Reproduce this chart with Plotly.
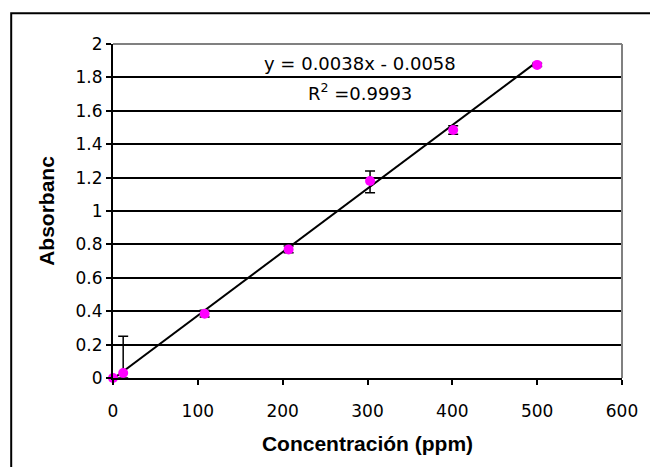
import plotly.graph_objects as go

conc = [0, 12, 108, 207, 303, 401, 500]
absorb = [0.0, 0.03, 0.385, 0.77, 1.18, 1.485, 1.875]
err_plus = [0.0, 0.22, 0.02, 0.02, 0.06, 0.025, 0.01]
err_minus = [0.0, 0.03, 0.02, 0.02, 0.07, 0.025, 0.01]
slope, intercept = 0.0038, -0.0058
fit_x = [0, 500]
fit_y = [slope * v + intercept for v in fit_x]
x_ticks = [0, 100, 200, 300, 400, 500, 600]

TICKFONT = "DejaVu Sans, Verdana, sans-serif"
TITLEFONT = "Liberation Sans, Arial, sans-serif"

fig = go.Figure()
fig.add_trace(go.Scatter(
    x=fit_x, y=fit_y, mode="lines",
    line=dict(color="black", width=2), showlegend=False, cliponaxis=False))
fig.add_trace(go.Scatter(
    x=conc, y=absorb, mode="markers",
    marker=dict(color="#FF00FF", size=10, symbol="circle"),
    error_y=dict(type="data", symmetric=False, array=err_plus, arrayminus=err_minus,
                 color="black", thickness=1.5, width=5),
    showlegend=False, cliponaxis=False))

fig.add_annotation(x=0.486, y=1.885, xref="paper", yref="y",
                   text="y = 0.0038x - 0.0058", showarrow=False,
                   font=dict(size=18, color="black", family=TICKFONT))
fig.add_annotation(x=0.486, y=1.71, xref="paper", yref="y",
                   text="R<sup>2</sup> =0.9993", showarrow=False,
                   font=dict(size=18, color="black", family=TICKFONT))

# plot-area top/right gray border
fig.add_shape(type="line", xref="paper", yref="paper", x0=0, x1=1, y0=1, y1=1,
              line=dict(color="#808080", width=2), layer="above")
fig.add_shape(type="line", xref="paper", yref="paper", x0=1, x1=1, y0=0, y1=1,
              line=dict(color="#808080", width=2), layer="above")
# outer chart border
fig.add_shape(type="rect", xref="paper", yref="paper",
              x0=-0.2, x1=1.2, y0=-0.6, y1=1.092,
              line=dict(color="black", width=2), layer="below")

fig.update_xaxes(range=[0, 600], tickvals=x_ticks, showgrid=False, zeroline=False,
                 showline=True, linecolor="black", linewidth=2,
                 ticks="outside", ticklen=5, tickcolor="black", tickwidth=1.5,
                 ticklabelstandoff=12,
                 tickfont=dict(size=17, color="black", family=TICKFONT),
                 title=dict(text="<b>Concentración (ppm)</b>", standoff=16,
                            font=dict(size=21, color="black", family=TITLEFONT)))
fig.update_yaxes(range=[0, 2], dtick=0.2, showgrid=True, gridcolor="black", gridwidth=1.5,
                 zeroline=False, showline=True, linecolor="black", linewidth=2,
                 ticks="outside", ticklen=5, tickcolor="black", tickwidth=1.5,
                 tickfont=dict(size=17, color="black", family=TICKFONT),
                 title=dict(text="<b>Absorbanc</b>", standoff=15,
                            font=dict(size=21, color="black", family=TITLEFONT)))

fig.update_layout(width=650, height=467, margin=dict(l=113, r=21, t=44, b=89),
                  paper_bgcolor="white", plot_bgcolor="white",
                  font=dict(family=TICKFONT, color="black"))

fig.write_html("out.html")
